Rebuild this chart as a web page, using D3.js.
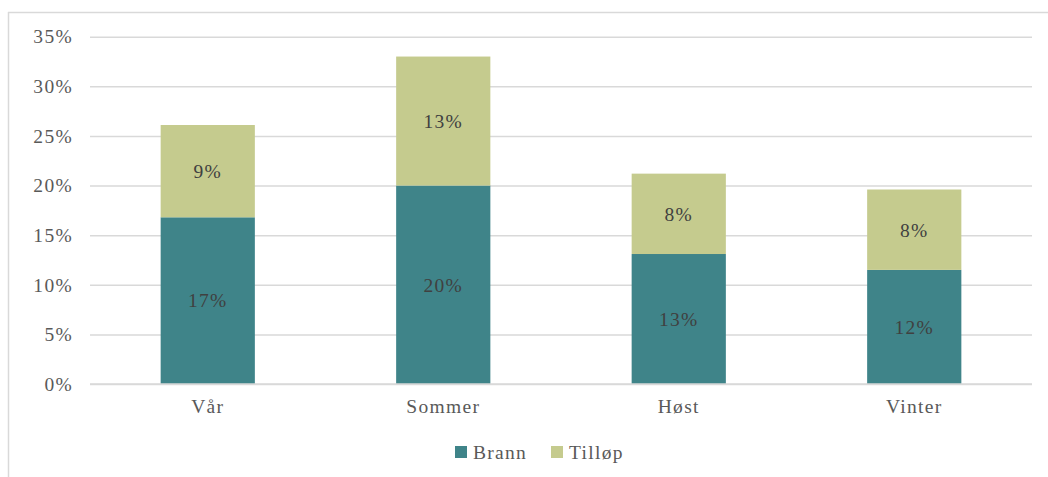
<!DOCTYPE html>
<html><head><meta charset="utf-8">
<script src="https://cdn.jsdelivr.net/npm/d3@7"></script>
<style>body{margin:0;background:#fff}svg{display:block}</style>
</head><body>
<script>
const categories = ["Vår", "Sommer", "Høst", "Vinter"];
const brann = [16.8, 20.0, 13.1, 11.5];
const tillop = [9.3, 13.0, 8.1, 8.1];
const brannLabels = ["17%", "20%", "13%", "12%"];
const tillopLabels = ["9%", "13%", "8%", "8%"];
const seriesNames = ["Brann", "Tilløp"];
const colors = ["#3F8489", "#C5CB8E"];
const yTicks = [0, 5, 10, 15, 20, 25, 30, 35];

const W = 1048, H = 477;
const svg = d3.select("body").append("svg").attr("width", W).attr("height", H);
const font = "'Liberation Serif', 'DejaVu Serif', serif";
const fs = "19.5px", ls = "1.3px";

// frame
svg.append("line").attr("x1", 8).attr("x2", W).attr("y1", 12.5).attr("y2", 12.5).attr("stroke", "#d9d9d9").attr("stroke-width", 1.5);
svg.append("line").attr("x1", 8.5).attr("x2", 8.5).attr("y1", 12).attr("y2", H).attr("stroke", "#d9d9d9").attr("stroke-width", 1.5);

const x = d3.scaleBand().domain(categories).range([90, 1032]).paddingInner(0.6).paddingOuter(0.3);
const y = d3.scaleLinear().domain([0, 35]).range([384, 36.7]);

// gridlines
const yAxis = d3.axisLeft(y).tickValues(yTicks).tickFormat(d => d + "%").tickSize(-(1032 - 90)).tickPadding(17);
const gy = svg.append("g").attr("transform", "translate(90,0)").call(yAxis);
gy.select(".domain").remove();
gy.selectAll(".tick line").attr("stroke", "#d9d9d9").attr("stroke-width", 1.5);
gy.selectAll(".tick text").attr("fill", "#595959").style("font-family", font).style("font-size", fs).style("letter-spacing", ls);

const data = categories.map((c, i) => ({cat: c, Brann: brann[i], "Tilløp": tillop[i], bl: brannLabels[i], tl: tillopLabels[i]}));
const stack = d3.stack().keys(seriesNames)(data);

stack.forEach((s, si) => {
  const g = svg.append("g");
  g.selectAll("rect").data(s).enter().append("rect")
    .attr("x", d => x(d.data.cat))
    .attr("width", x.bandwidth())
    .attr("y", d => y(d[1]))
    .attr("height", d => y(d[0]) - y(d[1]))
    .attr("fill", colors[si]);
  g.selectAll("text").data(s).enter().append("text")
    .attr("x", d => x(d.data.cat) + x.bandwidth() / 2)
    .attr("y", d => (y(d[0]) + y(d[1])) / 2)
    .attr("dy", "0.35em")
    .attr("text-anchor", "middle")
    .attr("fill", "#404040")
    .style("font-family", font).style("font-size", fs).style("letter-spacing", ls)
    .text(d => si === 0 ? d.data.bl : d.data.tl);
});

// baseline
svg.append("line").attr("x1", 90).attr("x2", 1032).attr("y1", 384).attr("y2", 384).attr("stroke", "#d9d9d9").attr("stroke-width", 1.5);

// x axis labels
const xAxis = d3.axisBottom(x).tickSize(0).tickPadding(15);
const gx = svg.append("g").attr("transform", "translate(0,384)").call(xAxis);
gx.select(".domain").remove();
gx.selectAll(".tick text").attr("fill", "#595959").style("font-family", font).style("font-size", fs).style("letter-spacing", ls);

// legend
const legendX = [455, 551];
const leg = svg.append("g");
seriesNames.forEach((n, i) => {
  leg.append("rect").attr("x", legendX[i]).attr("y", 446).attr("width", 12).attr("height", 12).attr("fill", colors[i]);
  leg.append("text").attr("x", legendX[i] + 18).attr("y", 452).attr("dy", "0.35em")
    .attr("fill", "#595959").style("font-family", font).style("font-size", fs).style("letter-spacing", ls).text(n);
});
</script>
</body></html>
